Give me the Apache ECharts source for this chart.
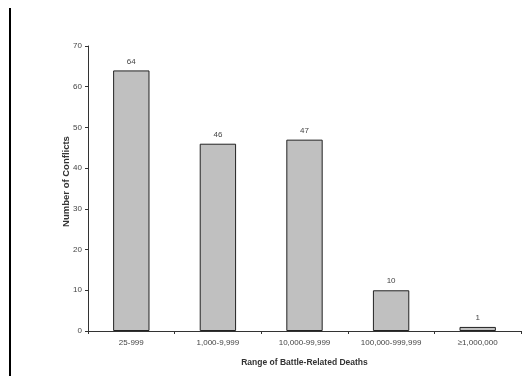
<!DOCTYPE html>
<html>
<head>
<meta charset="utf-8">
<script src="https://cdn.jsdelivr.net/npm/echarts@6/dist/echarts.min.js"></script>
<style>
html,body{margin:0;padding:0;background:#fff;}
#chart{width:531px;height:386px;}
</style>
</head>
<body>
<div id="chart"></div>
<script>
const categories = ['25-999', '1,000-9,999', '10,000-99,999', '100,000-999,999', '≥1,000,000'];
const conflicts = [64, 46, 47, 10, 1];
const yTicks = [0, 10, 20, 30, 40, 50, 60, 70];

const chart = echarts.init(document.getElementById('chart'));
const font = '"Liberation Sans", Arial, sans-serif';
chart.setOption({
  animation: false,
  backgroundColor: '#fff',
  grid: { left: 88, right: 10, top: 46, bottom: 55, containLabel: false },
  graphic: [{
    type: 'line',
    shape: { x1: 10, y1: 8, x2: 10, y2: 376 },
    style: { stroke: '#000', lineWidth: 2 }
  }],
  xAxis: {
    type: 'category',
    data: categories,
    name: 'Range of Battle-Related Deaths',
    nameLocation: 'middle',
    nameGap: 27,
    nameTextStyle: { fontFamily: font, fontSize: 8.5, fontWeight: 'bold', color: '#333' },
    axisLine: { lineStyle: { color: '#333', width: 1 } },
    axisTick: { show: true, alignWithLabel: false, length: 3, lineStyle: { color: '#333' } },
    axisLabel: { fontFamily: font, fontSize: 8, color: '#444', margin: 8 }
  },
  yAxis: {
    type: 'value',
    min: yTicks[0],
    max: yTicks[yTicks.length - 1],
    interval: 10,
    name: 'Number of Conflicts',
    nameLocation: 'middle',
    nameGap: 17,
    nameMoveOverlap: false,
    nameTextStyle: { fontFamily: font, fontSize: 9.5, fontWeight: 'bold', color: '#333', padding: [0, 0, 0, 14] },
    axisLine: { show: true, lineStyle: { color: '#333', width: 1 } },
    axisTick: { show: true, length: 3, lineStyle: { color: '#333' } },
    axisLabel: { fontFamily: font, fontSize: 8, color: '#444', margin: 6 },
    splitLine: { show: false }
  },
  series: [{
    type: 'bar',
    data: conflicts,
    barWidth: '42%',
    itemStyle: { color: '#c0c0c0', borderColor: '#222', borderWidth: 1 },
    label: { show: true, position: 'top', distance: 5, fontFamily: font, fontSize: 8, color: '#444' }
  }]
});
</script>
</body>
</html>
